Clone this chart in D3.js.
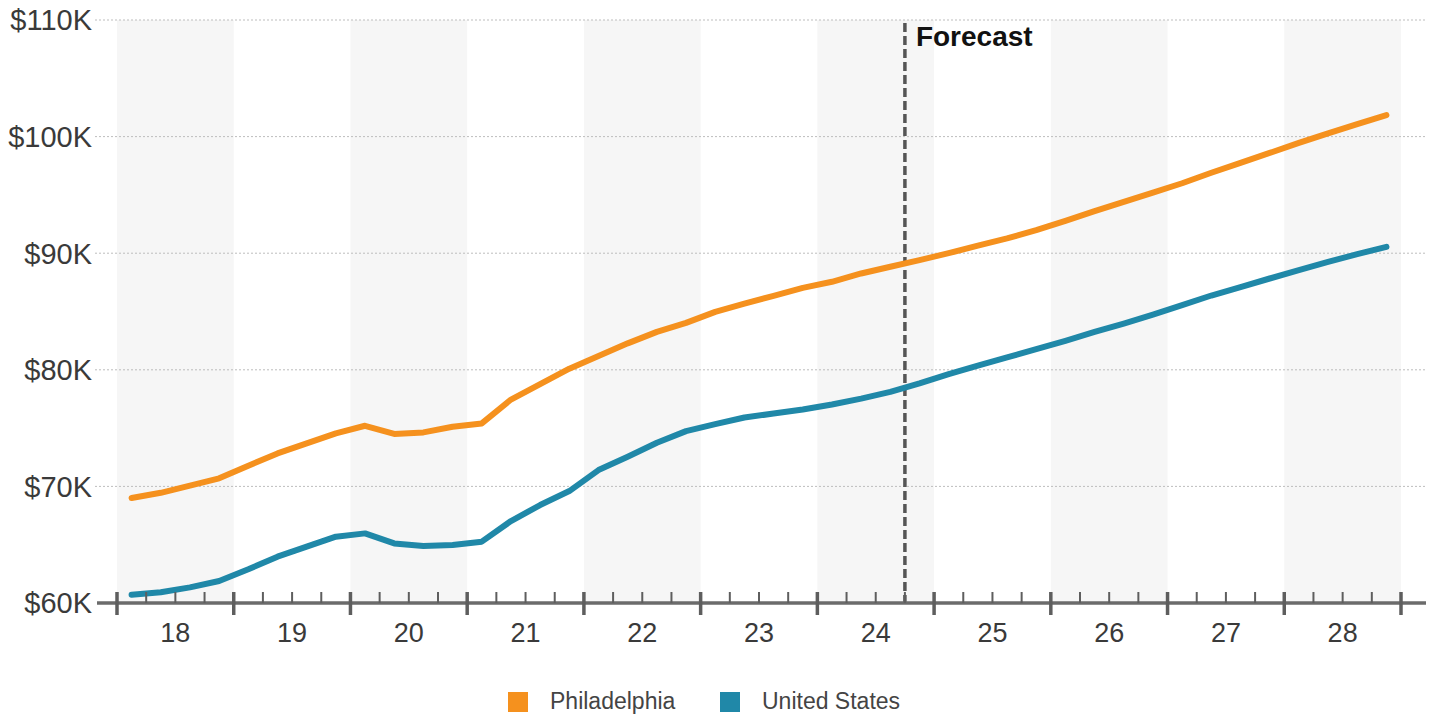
<!DOCTYPE html>
<html>
<head>
<meta charset="utf-8">
<script src="https://cdn.jsdelivr.net/npm/d3@7"></script>
<style>
  html, body { margin: 0; padding: 0; background: #fff; }
  svg { display: block; font-family: "Liberation Sans", Arial, sans-serif; }
</style>
</head>
<body>
<svg id="chart" width="1435" height="715"></svg>
<script>
// ---- data ----
const years = ["18", "19", "20", "21", "22", "23", "24", "25", "26", "27", "28"];
const quarters = ["Q1", "Q2", "Q3", "Q4"];
const yTicks = [60, 70, 80, 90, 100, 110];
const forecastStart = "24Q4";
const seriesNames = ["Philadelphia", "United States"];
const philadelphia = [
  69.0, 69.45, 70.06, 70.69,
  71.77, 72.83, 73.69, 74.55,
  75.2, 74.5, 74.63, 75.12,
  75.4, 77.45, 78.77, 80.1,
  81.18, 82.27, 83.25, 84.02,
  84.97, 85.68, 86.34, 87.03,
  87.55, 88.26, 88.84, 89.4,
  90.0, 90.65, 91.27, 91.98,
  92.78, 93.61, 94.41, 95.2,
  96.0, 96.9, 97.75, 98.6,
  99.46, 100.28, 101.07, 101.85
];
const unitedStates = [
  60.7, 60.92, 61.34, 61.89,
  62.89, 63.97, 64.83, 65.69,
  65.97, 65.11, 64.89, 64.97,
  65.26, 67.03, 68.4, 69.6,
  71.4, 72.54, 73.74, 74.74,
  75.34, 75.91, 76.25, 76.59,
  77.02, 77.53, 78.11, 78.83,
  79.63, 80.35, 81.06, 81.77,
  82.48, 83.25, 83.97, 84.74,
  85.54, 86.37, 87.1, 87.83,
  88.55, 89.25, 89.92, 90.55
];
const colors = ["#f5911e", "#2088a8"];

// ---- layout ----
const svg = d3.select("#chart");
const plotLeft = 117, plotRight = 1401, plotTop = 20, plotBottom = 603;

const periods = [];
years.forEach(yr => quarters.forEach(q => periods.push(yr + q)));

const xYear = d3.scaleBand().domain(years).range([plotLeft, plotRight]);
const x = d3.scaleBand().domain(periods).range([plotLeft, plotRight]);
const y = d3.scaleLinear().domain([60, 110]).range([plotBottom, plotTop]);

// alternating bands
svg.append("g").selectAll("rect")
  .data(years.filter((d, i) => i % 2 === 0))
  .join("rect")
  .attr("x", d => xYear(d))
  .attr("y", plotTop)
  .attr("width", xYear.bandwidth())
  .attr("height", plotBottom - plotTop)
  .attr("fill", "#f6f6f6");

// gridlines
svg.append("g").selectAll("line")
  .data(yTicks.filter(t => t > 60))
  .join("line")
  .attr("x1", 95).attr("x2", 1426)
  .attr("y1", d => y(d)).attr("y2", d => y(d))
  .attr("stroke", "#bdbdbd")
  .attr("stroke-width", 1)
  .attr("stroke-dasharray", "2,2");

// y labels
svg.append("g").selectAll("text")
  .data(yTicks)
  .join("text")
  .attr("x", 92)
  .attr("y", d => y(d))
  .attr("dy", "0.36em")
  .attr("text-anchor", "end")
  .attr("font-size", 29)
  .attr("fill", "#3a3a3a")
  .text(d => "$" + d + "K");

// forecast line
const fx = x(forecastStart);
svg.append("line")
  .attr("x1", fx).attr("x2", fx)
  .attr("y1", plotTop + 3).attr("y2", plotBottom)
  .attr("stroke", "#555")
  .attr("stroke-width", 3.5)
  .attr("stroke-dasharray", "9,4");
svg.append("text")
  .attr("x", fx + 11)
  .attr("y", 46)
  .attr("font-size", 28)
  .attr("font-weight", "bold")
  .attr("fill", "#111")
  .text("Forecast");

// lines
const line = d3.line()
  .x((d, i) => x(periods[i]) + x.bandwidth() / 2)
  .y(d => y(d));
[philadelphia, unitedStates].forEach((s, k) => {
  svg.append("path")
    .datum(s)
    .attr("d", line)
    .attr("fill", "none")
    .attr("stroke", colors[k])
    .attr("stroke-width", 6)
    .attr("stroke-linejoin", "round")
    .attr("stroke-linecap", "round");
});

// x axis
svg.append("line")
  .attr("x1", 97).attr("x2", 1426)
  .attr("y1", plotBottom).attr("y2", plotBottom)
  .attr("stroke", "#6b6b6b")
  .attr("stroke-width", 3.5);
const majorTicks = years.map(d => xYear(d)).concat([plotRight]);
svg.append("g").selectAll("line")
  .data(majorTicks)
  .join("line")
  .attr("x1", d => d).attr("x2", d => d)
  .attr("y1", plotBottom - 11).attr("y2", plotBottom + 12)
  .attr("stroke", "#5e5e5e")
  .attr("stroke-width", 3.5);
svg.append("g").selectAll("line")
  .data(periods.filter(p => !p.endsWith("Q1")))
  .join("line")
  .attr("x1", d => x(d)).attr("x2", d => x(d))
  .attr("y1", plotBottom - 11).attr("y2", plotBottom)
  .attr("stroke", "#5e5e5e")
  .attr("stroke-width", 2);
svg.append("g").selectAll("text")
  .data(years)
  .join("text")
  .attr("x", d => xYear(d) + xYear.bandwidth() / 2)
  .attr("y", 642)
  .attr("text-anchor", "middle")
  .attr("font-size", 27)
  .attr("fill", "#3a3a3a")
  .text(d => d);

// legend
const legendItems = [
  { name: seriesNames[0], color: colors[0], lx: 508 },
  { name: seriesNames[1], color: colors[1], lx: 720 }
];
const lg = svg.append("g").selectAll("g").data(legendItems).join("g")
  .attr("transform", d => `translate(${d.lx},692)`);
lg.append("rect").attr("width", 20).attr("height", 20).attr("fill", d => d.color);
lg.append("text")
  .attr("x", 42).attr("y", 17)
  .attr("font-size", 23)
  .attr("fill", "#444")
  .text(d => d.name);
</script>
</body>
</html>
